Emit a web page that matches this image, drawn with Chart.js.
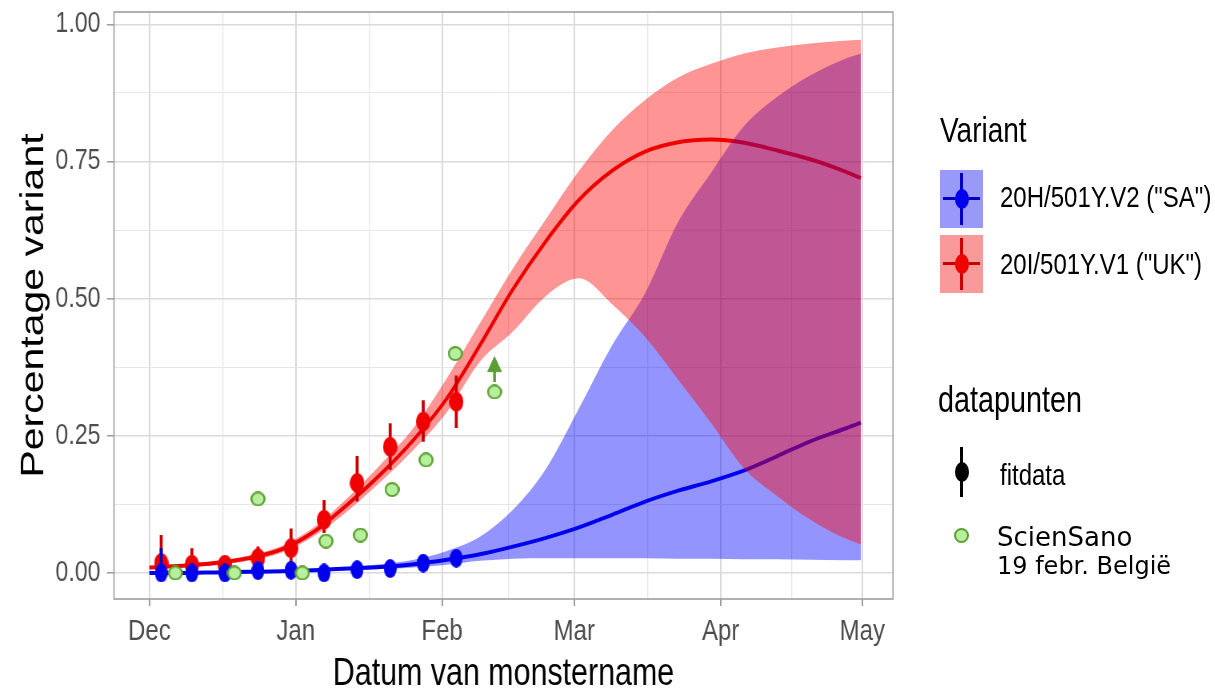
<!DOCTYPE html>
<html>
<head>
<meta charset="utf-8">
<title>Percentage variant</title>
<script src="https://cdn.jsdelivr.net/npm/chart.js"></script>
<style>
  body { margin: 0; background: #fff; overflow: hidden; }
  #wrap { position: relative; width: 1215px; height: 694px; overflow: hidden; }
  /* the original figure is squeezed horizontally, so the chart is drawn wider and scaled back */
  #canvas { position: absolute; left: 0; top: 0; transform: scaleX(0.8); transform-origin: 0 0; }
  .lg { position: absolute; white-space: nowrap; line-height: 1; color: #000;
        font-family: 'Liberation Sans', Arial, sans-serif; transform: scaleX(0.8); transform-origin: 0 0; }
  .sans { font-family: 'DejaVu Sans', Verdana, sans-serif; transform: none; }
  .key { position: absolute; width: 43px; height: 58px; }
  .key .hl { position: absolute; left: 3px; top: 27px; width: 37px; height: 3px; }
  .key .vl { position: absolute; left: 20px; top: 3px; width: 3px; height: 52px; }
  .key .dot { position: absolute; left: 14.5px; top: 19px; width: 14px; height: 20px; border-radius: 50%; }
</style>
</head>
<body>
<div id="wrap">
  <canvas id="canvas" width="1519" height="694"></canvas>

  <div class="lg" style="left:940px; top:112px; font-size:35px;">Variant</div>
  <div class="key" style="left:940px; top:170px; background:rgb(153,153,250);">
    <div class="hl" style="background:rgb(0,0,190);"></div>
    <div class="vl" style="background:rgb(0,0,190);"></div>
    <div class="dot" style="background:rgb(0,0,240);"></div>
  </div>
  <div class="lg" style="left:1000px; top:182px; font-size:30px;">20H/501Y.V2 ("SA")</div>
  <div class="key" style="left:940px; top:235px; background:rgb(250,153,153);">
    <div class="hl" style="background:rgb(200,0,0);"></div>
    <div class="vl" style="background:rgb(200,0,0);"></div>
    <div class="dot" style="background:rgb(240,0,0);"></div>
  </div>
  <div class="lg" style="left:1000px; top:249px; font-size:30px;">20I/501Y.V1 ("UK")</div>

  <div class="lg" style="left:938px; top:382px; font-size:36px;">datapunten</div>
  <div style="position:absolute; left:960px; top:447px; width:3px; height:50px; background:#000;"></div>
  <div style="position:absolute; left:954.5px; top:462px; width:14px; height:20px; border-radius:50%; background:#000;"></div>
  <div class="lg" style="left:1000px; top:460px; font-size:30px;">fitdata</div>
  <div style="position:absolute; left:954px; top:528px; width:11px; height:11px; border-radius:50%; background:#b6f09c; border:2px solid #5b9f34;"></div>
  <div class="lg sans" style="left:997px; top:524px; font-size:26px;">ScienSano</div>
  <div class="lg sans" style="left:997px; top:554px; font-size:24px;">19 febr. België</div>
</div>

<script>
  // x values are days counted from 1 December
  var monthDays = [0, 31, 62, 90, 121, 151];
  var monthLabels = ['Dec', 'Jan', 'Feb', 'Mar', 'Apr', 'May'];
  var minorDays = [15.5, 46.5, 76, 105.5, 136];
  var yMajor = [0, 0.25, 0.5, 0.75, 1];
  var yMinor = [0.125, 0.375, 0.625, 0.875];

  // weekly fit data with error bars
  var fitDays = [2.5, 9, 16, 23, 30, 37, 44, 51, 58, 65];
  var ukFit = [0.018, 0.015, 0.015, 0.027, 0.045, 0.097, 0.164, 0.230, 0.276, 0.312];
  var ukFitLo = [0.0, 0.0, 0.0, 0.011, 0.020, 0.073, 0.130, 0.188, 0.239, 0.264];
  var ukFitHi = [0.069, 0.045, 0.030, 0.048, 0.081, 0.133, 0.213, 0.273, 0.315, 0.360];
  var saFit = [0.0, 0.0, 0.0, 0.004, 0.005, 0.0, 0.006, 0.008, 0.018, 0.027];
  var saFitLo = [-0.005, -0.005, -0.004, -0.002, -0.002, -0.004, 0.0, 0.002, 0.010, 0.017];
  var saFitHi = [0.045, 0.008, 0.006, 0.010, 0.011, 0.005, 0.012, 0.014, 0.026, 0.040];

  // ScienSano points (19 febr.)
  var sciDays = [5.5, 18.0, 23.0, 32.4, 37.4, 44.7, 51.4, 58.6, 64.8, 73.1];
  var sciVals = [0.0, 0.0, 0.135, 0.0, 0.058, 0.069, 0.152, 0.206, 0.40, 0.33];
  var arrowDay = 73.1;
  var arrowFrom = 0.348;
  var arrowTo = 0.372;
  var arrowHead = 0.376;

  // model curves and ribbons
  var curveDays = [0, 7, 14, 21, 28, 35, 42, 49, 56, 63, 70, 77, 84, 91, 98, 105, 112, 119, 126, 133, 140, 147, 150.7];
  var ukLine = [0.010, 0.013, 0.018, 0.027, 0.043, 0.076, 0.125, 0.180, 0.243, 0.318, 0.415, 0.517, 0.605, 0.680, 0.733, 0.768, 0.785, 0.790, 0.784, 0.770, 0.754, 0.733, 0.720];
  var ukLo = [0.007, 0.010, 0.014, 0.022, 0.037, 0.068, 0.113, 0.166, 0.225, 0.293, 0.385, 0.440, 0.505, 0.537, 0.490, 0.430, 0.352, 0.273, 0.190, 0.140, 0.097, 0.064, 0.052];
  var ukHi = [0.013, 0.016, 0.022, 0.032, 0.049, 0.084, 0.137, 0.198, 0.265, 0.355, 0.455, 0.555, 0.645, 0.733, 0.807, 0.862, 0.903, 0.928, 0.947, 0.958, 0.965, 0.970, 0.972];
  var saLine = [0.0, 0.0, 0.001, 0.002, 0.003, 0.005, 0.008, 0.011, 0.016, 0.024, 0.034, 0.048, 0.064, 0.083, 0.106, 0.130, 0.150, 0.167, 0.187, 0.213, 0.240, 0.262, 0.274];
  var saLo = [-0.002, -0.002, -0.001, 0.0, 0.001, 0.002, 0.005, 0.007, 0.010, 0.015, 0.022, 0.026, 0.027, 0.027, 0.027, 0.027, 0.026, 0.026, 0.025, 0.025, 0.024, 0.023, 0.023];
  var saHi = [0.002, 0.002, 0.003, 0.004, 0.005, 0.008, 0.011, 0.016, 0.024, 0.040, 0.066, 0.115, 0.190, 0.300, 0.415, 0.510, 0.640, 0.730, 0.815, 0.868, 0.907, 0.936, 0.947];

  var SX = 0.8; // horizontal squeeze applied to the canvas

  function pts(xs, ys) {
    return xs.map(function (x, i) { return {x: x, y: ys[i]}; });
  }
  function bars(xs, lo, hi) {
    var out = [];
    xs.forEach(function (x, i) {
      out.push({x: x, y: lo[i]}, {x: x, y: hi[i]}, {x: x, y: null});
    });
    return out;
  }
  // marker image, w and h are the size on screen
  function marker(fill, stroke, w, h) {
    var c = document.createElement('canvas');
    c.width = Math.round(w / SX); c.height = h;
    var g = c.getContext('2d');
    g.scale(c.width / w, 1);
    g.beginPath();
    g.ellipse(w / 2, h / 2, w / 2 - (stroke ? 1 : 0), h / 2 - (stroke ? 1 : 0), 0, 0, 2 * Math.PI);
    g.fillStyle = fill;
    g.fill();
    if (stroke) { g.lineWidth = 2; g.strokeStyle = stroke; g.stroke(); }
    return c;
  }

  var xTicks = monthDays.concat(minorDays).sort(function (a, b) { return a - b; });
  var yTicks = yMajor.concat(yMinor).sort(function (a, b) { return a - b; });
  var sans = "'Liberation Sans', Arial, sans-serif";
  var green = '#5b9f34';

  var curve = {pointRadius: 0, cubicInterpolationMode: 'monotone', fill: false};
  function line(extra) { return Object.assign({type: 'line'}, curve, extra); }

  var panelBorder = {
    id: 'panelBorder',
    afterDatasetsDraw: function (chart) {
      var a = chart.chartArea, ctx = chart.ctx;
      ctx.save();
      ctx.strokeStyle = '#9e9e9e';
      ctx.lineWidth = 1.6;
      ctx.strokeRect(a.left, a.top, a.right - a.left, a.bottom - a.top);
      ctx.restore();
    }
  };

  var ctx = document.getElementById('canvas').getContext('2d');
  var chart = new Chart(ctx, {
    type: 'line',
    data: {
      datasets: [
        {data: pts(sciDays, sciVals), showLine: false, pointStyle: marker('#b6f09c', green, 15, 15), pointRadius: 8, order: 0},
        {data: [{x: arrowDay, y: arrowFrom}, {x: arrowDay, y: arrowTo}], borderColor: green,
         borderWidth: 3.5, pointRadius: 0, order: 1},
        {data: [{x: arrowDay, y: arrowHead}], showLine: false, pointStyle: 'triangle', pointRadius: 10,
         pointBackgroundColor: green, pointBorderColor: green, pointBorderWidth: 1, order: 1},
        {data: pts(fitDays, saFit), showLine: false, pointStyle: marker('rgb(0,0,240)', null, 13, 19), pointRadius: 8, order: 2},
        {data: bars(fitDays, saFitLo, saFitHi), borderColor: 'rgb(0,0,200)', borderWidth: 3.75, pointRadius: 0, order: 3},
        {data: pts(fitDays, ukFit), showLine: false, pointStyle: marker('rgb(240,0,0)', null, 14, 20), pointRadius: 8, order: 4},
        {data: bars(fitDays, ukFitLo, ukFitHi), borderColor: 'rgb(200,0,0)', borderWidth: 3.75, pointRadius: 0, order: 5},
        line({data: pts(curveDays, ukHi), fill: {target: 8}, backgroundColor: 'rgba(255,0,0,0.42)',
              borderColor: 'rgba(0,0,0,0)', borderWidth: 0, order: 6}),
        line({data: pts(curveDays, ukLo), borderColor: 'rgba(0,0,0,0)', borderWidth: 0, order: 12}),
        line({data: pts(curveDays, saHi), fill: {target: 10}, backgroundColor: 'rgba(0,0,255,0.42)',
              borderColor: 'rgba(0,0,0,0)', borderWidth: 0, order: 7}),
        line({data: pts(curveDays, saLo), borderColor: 'rgba(0,0,0,0)', borderWidth: 0, order: 13}),
        line({data: pts(curveDays, saLine), borderColor: 'rgb(0,0,225)', borderWidth: 4, order: 8}),
        line({data: pts(curveDays, ukLine), borderColor: 'rgb(225,0,0)', borderWidth: 4, order: 9})
      ]
    },
    options: {
      responsive: false,
      animation: false,
      events: [],
      layout: {padding: {top: 12, right: 1519 - 893 / SX, left: 0, bottom: 0}},
      plugins: {legend: {display: false}, tooltip: {enabled: false}},
      scales: {
        x: {
          type: 'linear',
          min: -7.5,
          max: 157.5,
          afterBuildTicks: function (scale) {
            scale.ticks = xTicks.map(function (v) { return {value: v}; });
          },
          afterFit: function (scale) {
            scale.height = 95;
            scale.paddingLeft = 0; scale.paddingRight = 0;
          },
          border: {display: false},
          grid: {
            color: function (c) { return monthDays.indexOf(c.tick.value) >= 0 ? '#dadada' : '#e6e6e6'; },
            lineWidth: function (c) { return monthDays.indexOf(c.tick.value) >= 0 ? 2 : 1.3; },
            tickColor: function (c) { return monthDays.indexOf(c.tick.value) >= 0 ? '#9a9a9a' : 'rgba(0,0,0,0)'; },
            tickLength: 7,
            tickWidth: 1.9
          },
          ticks: {
            autoSkip: false,
            maxRotation: 0,
            padding: 8,
            color: '#4d4d4d',
            font: {family: sans, size: 30},
            callback: function (v) {
              var i = monthDays.indexOf(v);
              return i >= 0 ? monthLabels[i] : '';
            }
          },
          title: {
            display: true,
            text: 'Datum van monstername',
            color: '#000',
            font: {family: sans, size: 38, lineHeight: 1},
            padding: {top: 0, bottom: 0}
          }
        },
        y: {
          type: 'linear',
          min: -0.0475,
          max: 1.0225,
          afterBuildTicks: function (scale) {
            scale.ticks = yTicks.map(function (v) { return {value: v}; });
          },
          afterFit: function (scale) {
            scale.width = 114 / SX;
            scale.paddingTop = 0; scale.paddingBottom = 0;
          },
          border: {display: false},
          grid: {
            color: function (c) { return yMajor.indexOf(c.tick.value) >= 0 ? '#dadada' : '#e6e6e6'; },
            lineWidth: function (c) { return yMajor.indexOf(c.tick.value) >= 0 ? 1.6 : 1; },
            tickColor: function (c) { return yMajor.indexOf(c.tick.value) >= 0 ? '#9a9a9a' : 'rgba(0,0,0,0)'; },
            tickLength: 8.75,
            tickWidth: 1.5
          },
          ticks: {
            autoSkip: false,
            padding: 8,
            color: '#4d4d4d',
            font: {family: sans, size: 29},
            callback: function (v) {
              return yMajor.indexOf(v) >= 0 ? v.toFixed(2) : '';
            }
          },
          title: {
            display: true,
            text: 'Percentage variant',
            color: '#000',
            font: {family: sans, size: 41, lineHeight: 1},
            padding: {top: 22, bottom: 0}
          }
        }
      }
    },
    plugins: [panelBorder]
  });
</script>
</body>
</html>
